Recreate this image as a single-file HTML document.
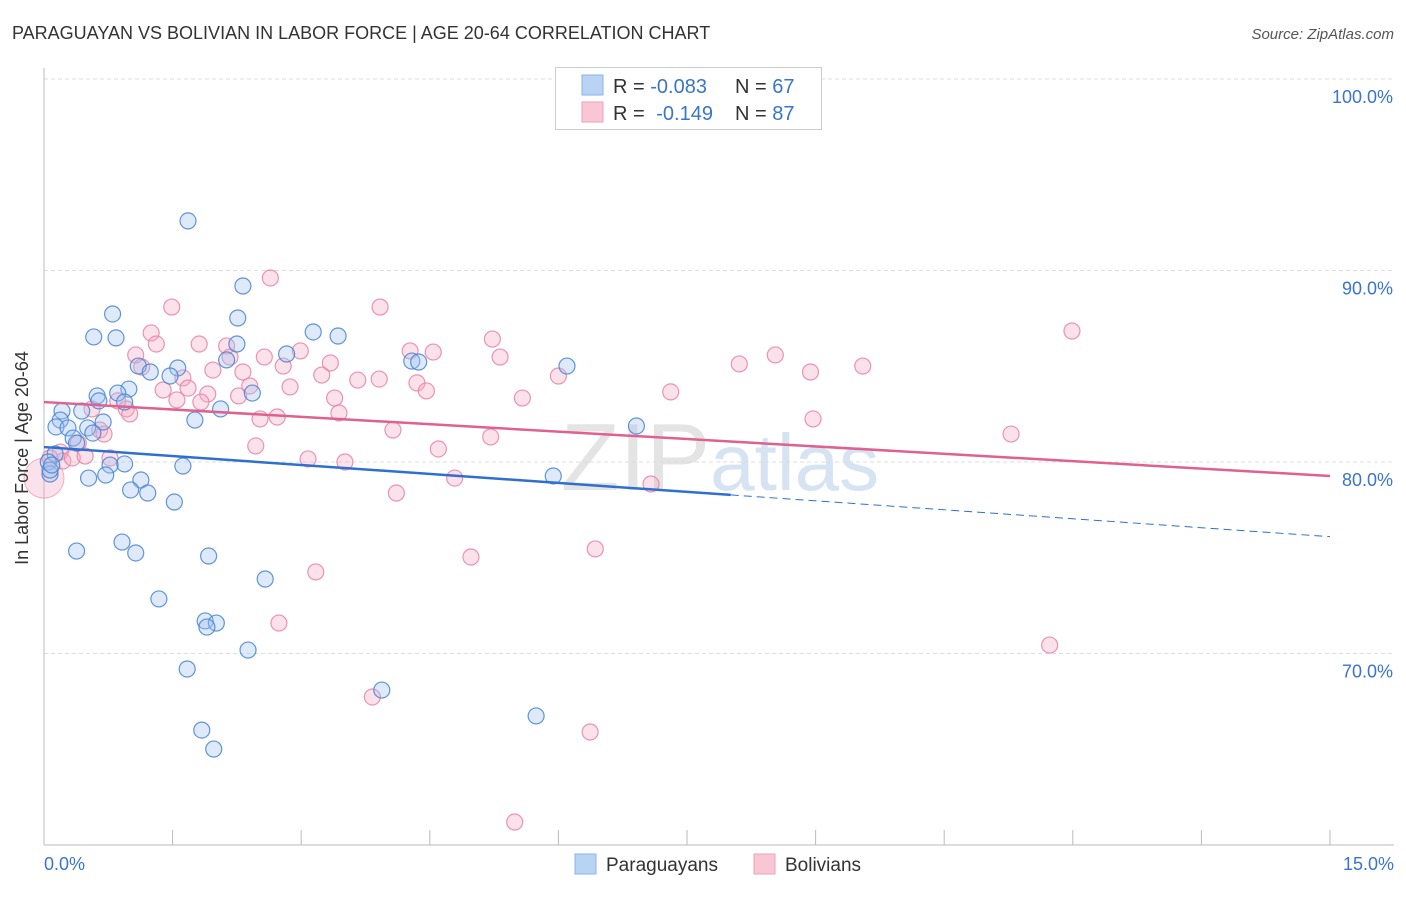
<!DOCTYPE html>
<html><head><meta charset="utf-8">
<style>
body{margin:0;background:#fff;font-family:"Liberation Sans",sans-serif;}
svg text{font-family:"Liberation Sans",sans-serif;}
</style></head>
<body>
<svg id="chart" width="1406" height="892">
<text x="12" y="39" font-size="18" fill="#333">PARAGUAYAN VS BOLIVIAN IN LABOR FORCE | AGE 20-64 CORRELATION CHART</text>
<text x="1394" y="39" font-size="15" fill="#555" font-style="italic" text-anchor="end">Source: ZipAtlas.com</text>
<text x="720" y="490" font-size="96" fill="#e4e4e4" text-anchor="middle" font-family="Liberation Serif">ZIP<tspan fill="#d5e3f3" font-family="Liberation Sans" font-size="80">atlas</tspan></text>
<g id="grid"></g>
<g id="axes"></g>
<g id="pts"></g>
<g id="trends"></g>
<text x="28" y="458" font-size="18" fill="#333" text-anchor="middle" transform="rotate(-90 28 458)">In Labor Force | Age 20-64</text>
<g>
<rect x="555.5" y="67.5" width="266" height="62" fill="#fff" stroke="#ccc"/>
<rect x="582" y="75" width="21" height="20" fill="#b9d3f5" stroke="#8ab3e6"/>
<rect x="582" y="102" width="21" height="20" fill="#f9c6d6" stroke="#eea2bb"/>
<text x="613" y="93" font-size="20" fill="#333">R = <tspan fill="#3a74cc">-0.083</tspan></text>
<text x="735" y="93" font-size="20" fill="#333">N = <tspan fill="#3a74cc">67</tspan></text>
<text x="613" y="120" font-size="20" fill="#333">R = <tspan fill="#3a74cc" dx="6">-0.149</tspan></text>
<text x="735" y="120" font-size="20" fill="#333">N = <tspan fill="#3a74cc">87</tspan></text>
</g>
<g>
<rect x="575" y="854" width="21" height="20" fill="#b9d3f5" stroke="#8ab3e6"/>
<text x="606" y="871" font-size="19" fill="#333">Paraguayans</text>
<rect x="754" y="854" width="21" height="20" fill="#f9c6d6" stroke="#eea2bb"/>
<text x="785" y="871" font-size="19" fill="#333">Bolivians</text>
</g>
</svg>
<script>
const yTicks=[100,90,80,70];
const yTickLabels=["100.0%","90.0%","80.0%","70.0%"];
const xTickLabels=["0.0%","15.0%"];
const blueX=[1.68,2.32,0.80,0.58,0.84,2.26,2.25,3.14,3.43,2.83,2.13,4.29,4.37,6.10,1.10,1.56,1.24,1.47,0.99,0.62,0.86,0.94,0.64,2.43,2.06,0.21,0.44,1.76,0.19,0.69,0.14,0.28,0.51,0.57,0.34,0.38,0.13,0.05,0.94,0.77,1.62,0.07,0.52,0.72,1.13,6.91,5.94,1.01,1.21,1.52,0.91,0.38,1.07,1.92,2.58,1.34,1.88,2.01,1.90,2.38,1.67,3.94,5.74,1.84,1.98,0.07,0.09];
const blueY=[92.59,89.19,87.73,86.53,86.48,87.52,86.16,86.79,86.58,85.64,85.33,85.27,85.22,85.01,85.01,84.91,84.70,84.49,83.81,83.45,83.60,83.13,83.19,83.60,82.77,82.66,82.66,82.19,82.19,82.09,81.83,81.78,81.78,81.51,81.25,80.99,80.42,80.00,79.90,79.84,79.79,79.37,79.16,79.32,79.06,81.88,79.27,78.54,78.38,77.91,75.82,75.35,75.25,75.09,73.89,72.85,71.70,71.59,71.38,70.18,69.19,68.09,66.74,66.00,65.01,79.58,79.84];
const pinkX=[2.64,1.49,3.92,1.25,5.23,1.31,1.81,2.13,2.99,4.27,4.54,1.07,2.17,2.57,5.32,8.53,11.99,3.34,2.79,8.11,9.55,8.94,1.14,1.97,2.32,3.24,1.62,3.66,3.91,6.00,4.35,2.40,1.39,1.68,2.87,4.46,7.31,1.91,2.27,3.39,1.55,1.83,5.58,0.86,0.96,0.56,1.00,3.44,2.52,2.72,8.97,4.07,0.65,0.70,0.40,5.21,11.28,2.47,4.60,0.19,0.22,0.33,0.48,0.77,3.08,3.51,4.79,7.08,4.11,6.43,4.98,3.17,2.74,11.73,3.83,6.37,5.49,0.07];
const pinkY=[89.61,88.09,88.09,86.74,86.42,86.16,86.16,86.06,85.80,85.80,85.74,85.59,85.48,85.48,85.48,85.59,86.84,85.17,85.01,85.12,85.01,84.70,84.96,84.80,84.70,84.54,84.39,84.28,84.33,84.49,84.13,83.97,83.76,83.86,83.92,83.71,83.66,83.55,83.45,83.34,83.24,83.13,83.34,83.19,82.77,82.77,82.51,82.56,82.25,82.35,82.25,81.67,81.67,81.46,80.99,81.31,81.46,80.84,80.68,80.52,80.05,80.21,80.31,80.21,80.16,80.00,79.16,78.85,78.38,75.46,75.04,74.26,71.59,70.44,67.73,65.90,61.20,80.21];
const bigPink=[0,79.16];
const blueTrend=[80.78,76.1]; const blueSolidEnd=8.01;
const pinkTrend=[83.13,79.27];
const X=v=>44+v/15*1286, Y=v=>79+(100-v)*19.15;
const NS="http://www.w3.org/2000/svg";
function mk(t,a,p){const e=document.createElementNS(NS,t);for(const k in a)e.setAttribute(k,a[k]);p.appendChild(e);return e;}
const grid=document.getElementById('grid'),axes=document.getElementById('axes'),pts=document.getElementById('pts'),tr=document.getElementById('trends');
yTicks.forEach((t,i)=>{
 const l=mk('line',{x1:44,x2:1394,y1:Y(t),y2:Y(t),stroke:'#ddd','stroke-dasharray':'4 3'},grid);
 
 
 const tx=mk('text',{x:1393,y:Y(t)+24,'font-size':18,fill:'#3a74cc','text-anchor':'end'},axes);
 tx.textContent=yTickLabels[i];
 
 
});
const ya=mk('line',{x1:44,x2:44,y1:68,y2:845,stroke:'#bbb'},axes);


const xa=mk('line',{x1:44,x2:1394,y1:845,y2:845,stroke:'#bbb'},axes);


for(let i=0;i<=10;i++){const t=mk('line',{x1:X(i*1.5),x2:X(i*1.5),y1:830,y2:845,stroke:'#bbb'},axes);
 
 }
[[0,'start',44],[15,'end',1394]].forEach((d,i)=>{const t=mk('text',{x:d[2],y:870,'font-size':18,fill:'#3a74cc','text-anchor':d[1]},axes);t.textContent=xTickLabels[i];
 
 });
const bp=mk('circle',{cx:X(bigPink[0]),cy:Y(bigPink[1]),r:20,fill:'rgba(244,170,195,0.35)',stroke:'rgba(232,130,165,0.6)'},pts);


pinkX.forEach((x,i)=>{const c=mk('circle',{cx:X(x),cy:Y(pinkY[i]),r:8,fill:'rgba(244,170,195,0.35)',stroke:'rgba(232,130,165,0.85)','stroke-width':1.2},pts);
 
 });
blueX.forEach((x,i)=>{const c=mk('circle',{cx:X(x),cy:Y(blueY[i]),r:8,fill:'rgba(160,195,240,0.35)',stroke:'rgba(70,130,210,0.85)','stroke-width':1.2},pts);
 
 });
const bAt=x=>blueTrend[0]+(blueTrend[1]-blueTrend[0])*x/15;
const l1=mk('line',{x1:X(0),y1:Y(bAt(0)),x2:X(blueSolidEnd),y2:Y(bAt(blueSolidEnd)),stroke:'#2f6fd0','stroke-width':2.5},tr);


const l2=mk('line',{x1:X(blueSolidEnd),y1:Y(bAt(blueSolidEnd)),x2:X(15),y2:Y(bAt(15)),stroke:'#2f6fd0','stroke-width':1,'stroke-dasharray':'8 5'},tr);


const l3=mk('line',{x1:X(0),y1:Y(pinkTrend[0]),x2:X(15),y2:Y(pinkTrend[1]),stroke:'#e0608e','stroke-width':2.5},tr);


</script>
</body></html>
